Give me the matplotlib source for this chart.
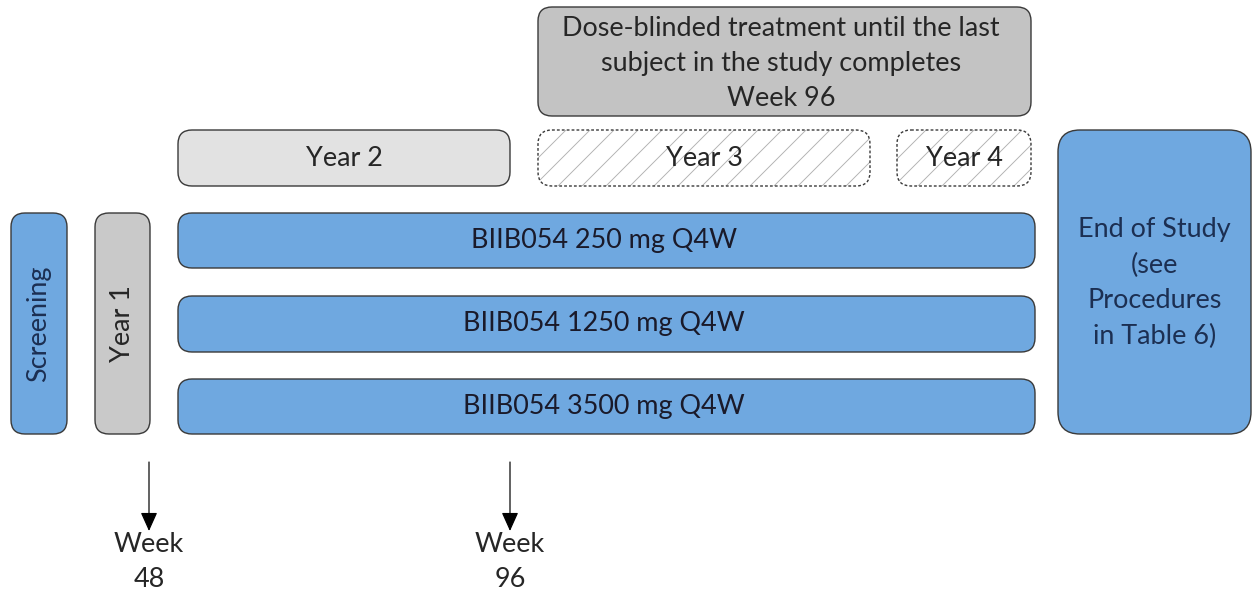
import matplotlib
matplotlib.use("Agg")
import matplotlib.pyplot as plt
from matplotlib.patches import FancyBboxPatch

# ---- data ----
dose_arms = ["BIIB054 250 mg Q4W", "BIIB054 1250 mg Q4W", "BIIB054 3500 mg Q4W"]
year_labels = ["Year 1", "Year 2", "Year 3", "Year 4"]
phase_labels = ["Screening", "End of Study\n(see\nProcedures\nin Table 6)"]
blinded_note = "Dose-blinded treatment until the last\nsubject in the study completes\nWeek 96"
milestone_weeks = [48, 96]

# ---- style ----
W, H, DPI = 1258, 592, 72
BLUE = "#6fa8e0"
EDGE = "#3a3a3a"
TXT = "#262626"
NAVY = "#1c2f52"
FONT = "Lato"
FS = 27

plt.rcParams["hatch.linewidth"] = 0.9
fig = plt.figure(figsize=(W / DPI, H / DPI), dpi=DPI)
ax = fig.add_axes([0, 0, 1, 1])
ax.set_xlim(0, W)
ax.set_ylim(H, 0)
ax.axis("off")


def box(x0, y0, x1, y1, fc, ec=EDGE, lw=1.4, r=14, ls="-", hatch=None):
    if hatch:
        ax.add_patch(FancyBboxPatch((x0, y0), x1 - x0, y1 - y0,
                                    boxstyle=f"round,pad=0,rounding_size={r}",
                                    fc=fc, ec="#b0b0b0", lw=0, hatch=hatch))
        fc = "none"
    ax.add_patch(FancyBboxPatch((x0, y0), x1 - x0, y1 - y0,
                                boxstyle=f"round,pad=0,rounding_size={r}",
                                fc=fc, ec=ec, lw=lw, ls=ls))


def label(x, y, s, color=TXT, rot=0, fs=FS, ls=1.2):
    ax.text(x, y, s, ha="center", va="center", color=color, rotation=rot,
            fontsize=fs, family=FONT, linespacing=ls)


# dose-blinded note
box(538, 7, 1031, 116, "#c3c3c3")
label(781, 63, blinded_note, ls=1.5)

# years 2-4
box(178, 130, 510, 186, "#e2e2e2")
label(344, 158, year_labels[1])
box(538, 130, 870, 186, "white", ls=(0, (2, 1.5)), hatch="/")
label(704, 158, year_labels[2])
box(897, 130, 1031, 186, "white", ls=(0, (2, 1.5)), hatch="/")
label(964, 158, year_labels[3])

# screening and year 1
box(11, 213, 67, 434, BLUE)
label(39, 323.5, phase_labels[0], color=NAVY, rot=90)
box(95, 213, 150, 434, "#c9c9c9")
label(122.5, 323.5, year_labels[0], rot=90)

# dose arms
arm_y = [(213, 268), (296, 352), (379, 434)]
for (y0, y1), name in zip(arm_y, dose_arms):
    box(178, y0, 1035, y1, BLUE)
    label(604, (y0 + y1) / 2, name, color="#1a1a2a")

# end of study
box(1058, 130, 1251, 434, BLUE, r=22)
label(1154.5, 283, phase_labels[1], color=NAVY, ls=1.52)

# milestones
for xm, wk in zip([149, 510], milestone_weeks):
    ax.annotate("", xy=(xm, 531), xytext=(xm, 462),
                arrowprops=dict(arrowstyle="-|>,head_length=1.0,head_width=0.45",
                                mutation_scale=16, color="black", lw=1.2,
                                shrinkA=0, shrinkB=0))
    label(xm, 562, f"Week\n{wk}", ls=1.5)

fig.savefig("out.png", dpi=DPI)
